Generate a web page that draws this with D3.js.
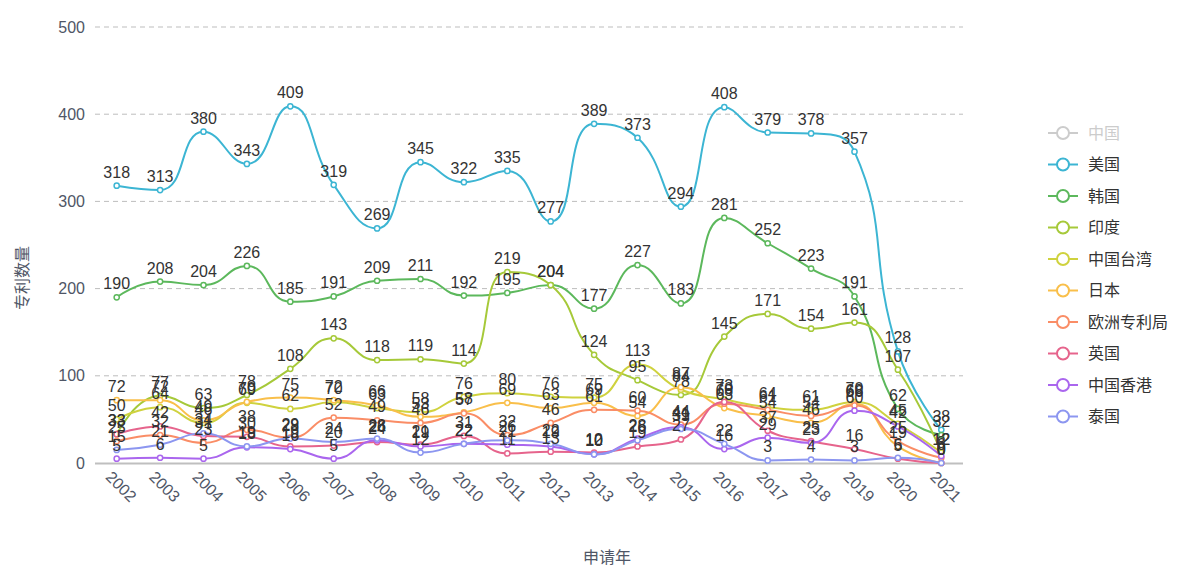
<!DOCTYPE html>
<html>
<head>
<meta charset="utf-8">
<style>
  body { margin: 0; background: #fff; }
  svg text { font-family: Arial, "Liberation Sans", "Noto Sans CJK SC", sans-serif; }
</style>
</head>
<body>
<div id="chart"></div>
<script src="https://d3js.org/d3.v7.min.js"></script>
<script>
// 申请年
const years = ["2002","2003","2004","2005","2006","2007","2008","2009","2010","2011",
               "2012","2013","2014","2015","2016","2017","2018","2019","2020","2021"];

// 专利数量, per applicant (中国 is switched off in the legend, so no line)
const usa      = [318,313,380,343,409,319,269,345,322,335,277,389,373,294,408,379,378,357,128,38];
const korea    = [190,208,204,226,185,191,209,211,192,195,204,177,227,183,281,252,223,191,62,32];
const india    = [33,77,63,78,108,143,118,119,114,219,204,124,95,78,145,171,154,161,107,12];
const taiwan   = [50,64,46,69,62,70,63,58,76,80,76,75,113,84,73,64,61,70,45,12];
const japan    = [72,72,49,70,75,72,66,53,58,69,63,69,54,87,63,54,46,68,19,0];
const epo      = [25,32,23,38,29,52,49,46,57,32,46,61,60,44,68,61,54,66,25,6];
const uk       = [33,42,31,30,19,20,24,21,31,11,13,12,19,27,70,37,25,16,5,0];
const hongkong = [5,6,5,18,16,5,26,19,22,21,19,10,28,41,16,29,23,60,42,8];
const thailand = [15,21,34,19,28,24,28,12,22,26,22,10,26,39,22,3,4,3,6,0];

const legendNames = ["中国","美国","韩国","印度","中国台湾","日本","欧洲专利局","英国","中国香港","泰国"];
const seriesData  = [null, usa, korea, india, taiwan, japan, epo, uk, hongkong, thailand];
const colors = ["#cccccc","#3cb5d3","#5cb85c","#a6c939","#cfd23e","#f9bf4a","#fa8d66","#e6648c","#aa66ee","#8c96f0"];

const width = 1181, height = 565;
const axisColor = "#4f5666";
const svg = d3.select("#chart").append("svg")
  .attr("width", width).attr("height", height);

const x = d3.scaleBand().domain(years).range([95, 963]).padding(0);
const y = d3.scaleLinear().domain([0, 500]).range([463, 27]);
const cx = d => x(d) + x.bandwidth() / 2;

// grid
svg.append("g")
  .selectAll("line")
  .data(y.ticks(5).filter(t => t > 0))
  .enter().append("line")
  .attr("x1", 95).attr("x2", 963)
  .attr("y1", d => y(d)).attr("y2", d => y(d))
  .attr("stroke", "#bdbdbd").attr("stroke-dasharray", "5,4");

// y axis labels
svg.append("g")
  .selectAll("text")
  .data(y.ticks(5))
  .enter().append("text")
  .attr("x", 85).attr("y", d => y(d))
  .attr("dy", "0.35em")
  .attr("text-anchor", "end")
  .attr("fill", axisColor)
  .style("font-size", "16px")
  .text(d => d);

// x axis
svg.append("line")
  .attr("x1", 95).attr("x2", 963).attr("y1", 463.5).attr("y2", 463.5)
  .attr("stroke", "#bfbfbf").attr("stroke-width", 2);

svg.append("g")
  .selectAll("text")
  .data(years)
  .enter().append("text")
  .attr("transform", d => "translate(" + (cx(d) - 8) + ",474) rotate(45)")
  .attr("dy", "0.35em")
  .attr("fill", axisColor)
  .style("font-size", "16px")
  .text(d => d);

// axis names
svg.append("text")
  .attr("transform", "translate(22,278) rotate(-90)")
  .attr("text-anchor", "middle").attr("dy", "0.35em")
  .attr("fill", axisColor).style("font-size", "16px")
  .text("专利数量");
svg.append("text")
  .attr("x", 607).attr("y", 557)
  .attr("text-anchor", "middle").attr("dy", "0.35em")
  .attr("fill", axisColor).style("font-size", "16px")
  .text("申请年");

// smooth line like echarts (smooth 0.5 with control point clamping)
function smoothPath(pts, smooth) {
  const p = d3.path();
  let cp0x, cp0y;
  for (let i = 0; i < pts.length; i++) {
    const [px, py] = pts[i];
    if (i === 0) { p.moveTo(px, py); cp0x = px; cp0y = py; continue; }
    const prev = pts[i - 1], next = pts[i + 1];
    let cp1x, cp1y, ncx, ncy;
    if (!next) {
      cp1x = px; cp1y = py;
    } else {
      let vx = next[0] - prev[0], vy = next[1] - prev[1];
      const l0 = Math.hypot(px - prev[0], py - prev[1]);
      const l1 = Math.hypot(next[0] - px, next[1] - py);
      const r = l1 / (l0 + l1);
      ncx = px + vx * smooth * r;
      ncy = py + vy * smooth * r;
      ncx = Math.max(Math.min(ncx, Math.max(next[0], px)), Math.min(next[0], px));
      ncy = Math.max(Math.min(ncy, Math.max(next[1], py)), Math.min(next[1], py));
      vx = ncx - px; vy = ncy - py;
      cp1x = px - vx * l0 / l1;
      cp1y = py - vy * l0 / l1;
      cp1x = Math.max(Math.min(cp1x, Math.max(prev[0], px)), Math.min(prev[0], px));
      cp1y = Math.max(Math.min(cp1y, Math.max(prev[1], py)), Math.min(prev[1], py));
      vx = px - cp1x; vy = py - cp1y;
      ncx = px + vx * l1 / l0;
      ncy = py + vy * l1 / l0;
    }
    p.bezierCurveTo(cp0x, cp0y, cp1x, cp1y, px, py);
    cp0x = ncx; cp0y = ncy;
  }
  return p.toString();
}

const shown = seriesData.map((d, i) => ({ name: legendNames[i], values: d, color: colors[i] }))
  .filter(s => s.values);

const lines = svg.append("g");
shown.forEach(s => {
  const pts = s.values.map((v, i) => [cx(years[i]), y(v)]);
  lines.append("path")
    .attr("d", smoothPath(pts, 0.5))
    .attr("fill", "none")
    .attr("stroke", s.color)
    .attr("stroke-width", 2);
});

const dots = svg.append("g");
shown.forEach(s => {
  dots.append("g").selectAll("circle")
    .data(s.values)
    .enter().append("circle")
    .attr("cx", (d, i) => cx(years[i]))
    .attr("cy", d => y(d))
    .attr("r", 2.6)
    .attr("fill", "#fff")
    .attr("stroke", s.color)
    .attr("stroke-width", 1.5);
});

const labels = svg.append("g");
shown.forEach(s => {
  labels.append("g").selectAll("text")
    .data(s.values)
    .enter().append("text")
    .attr("x", (d, i) => cx(years[i]))
    .attr("y", d => y(d) - 8)
    .attr("text-anchor", "middle")
    .attr("fill", "#333")
    .style("font-size", "16px")
    .text(d => d);
});

// legend
const legend = svg.append("g");
legendNames.forEach((name, i) => {
  const ly = 133 + i * 31.5;
  const g = legend.append("g");
  g.append("line")
    .attr("x1", 1048).attr("x2", 1078).attr("y1", ly).attr("y2", ly)
    .attr("stroke", colors[i]).attr("stroke-width", 2);
  g.append("circle")
    .attr("cx", 1063).attr("cy", ly).attr("r", 6)
    .attr("fill", "#fff").attr("stroke", colors[i]).attr("stroke-width", 2);
  g.append("text")
    .attr("x", 1088).attr("y", ly).attr("dy", "0.35em")
    .attr("fill", i === 0 ? "#cccccc" : "#333")
    .style("font-size", "16px")
    .text(name);
});
</script>
</body>
</html>
